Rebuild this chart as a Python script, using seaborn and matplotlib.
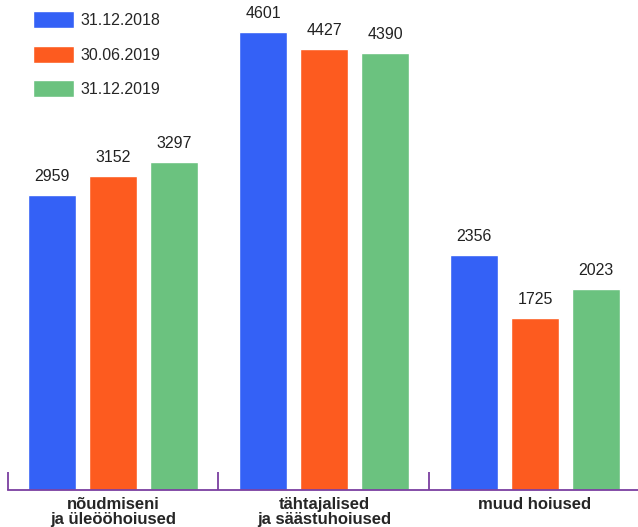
import pandas as pd
import matplotlib.pyplot as plt
import seaborn as sns

categories = ["nõudmiseni\nja üleööhoiused", "tähtajalised\nja säästuhoiused", "muud hoiused"]
dates = ["31.12.2018", "30.06.2019", "31.12.2019"]
v_2018_12 = [2959, 4601, 2356]
v_2019_06 = [3152, 4427, 1725]
v_2019_12 = [3297, 4390, 2023]

colors = ["#3461F6", "#FD5B1F", "#6BC27F"]
axis_col = "#7B3FA0"

rows = []
for d, vals in zip(dates, [v_2018_12, v_2019_06, v_2019_12]):
    for c, v in zip(categories, vals):
        rows.append({"Category": c, "Date": d, "Value": v})
df = pd.DataFrame(rows)

sns.set_style("white")
plt.rcParams['font.family'] = ['Liberation Sans', 'DejaVu Sans']

fig = plt.figure(figsize=(6.38, 5.27), dpi=100)
ax = fig.add_axes([0.0118, 0.0702, 0.992, 0.9066])

sns.barplot(data=df, x="Category", y="Value", hue="Date", palette=colors,
            width=0.867, gap=0.21, saturation=1, ax=ax)

for cont in ax.containers:
    ax.bar_label(cont, padding=8, fontsize=11.5, color="#222222")

ax.set_ylim(0, 4800)
ax.set_xlim(-0.5, 2.5)
ax.set_xlabel("")
ax.set_ylabel("")
ax.set_yticks([])
for s in ["top", "right", "left"]:
    ax.spines[s].set_visible(False)
ax.spines["bottom"].set_color(axis_col)
ax.spines["bottom"].set_linewidth(1.3)

ax.tick_params(axis="x", which="major", bottom=True, length=0, pad=5, labelsize=12)
for lbl in ax.get_xticklabels():
    lbl.set_fontweight("bold")
    lbl.set_linespacing(1.0)
ax.set_xticks([-0.5, 0.5, 1.5, 2.5], minor=True)
ax.tick_params(axis="x", which="minor", bottom=True, direction="in", length=13,
               width=1.3, color=axis_col)

leg = ax.legend(loc="upper left", bbox_to_anchor=(0.03, 1.015), frameon=False,
                fontsize=11.5, handlelength=2.6, handleheight=1.25,
                labelspacing=1.1, handletextpad=0.4, borderaxespad=0)

fig.savefig("out.png", dpi=100)
